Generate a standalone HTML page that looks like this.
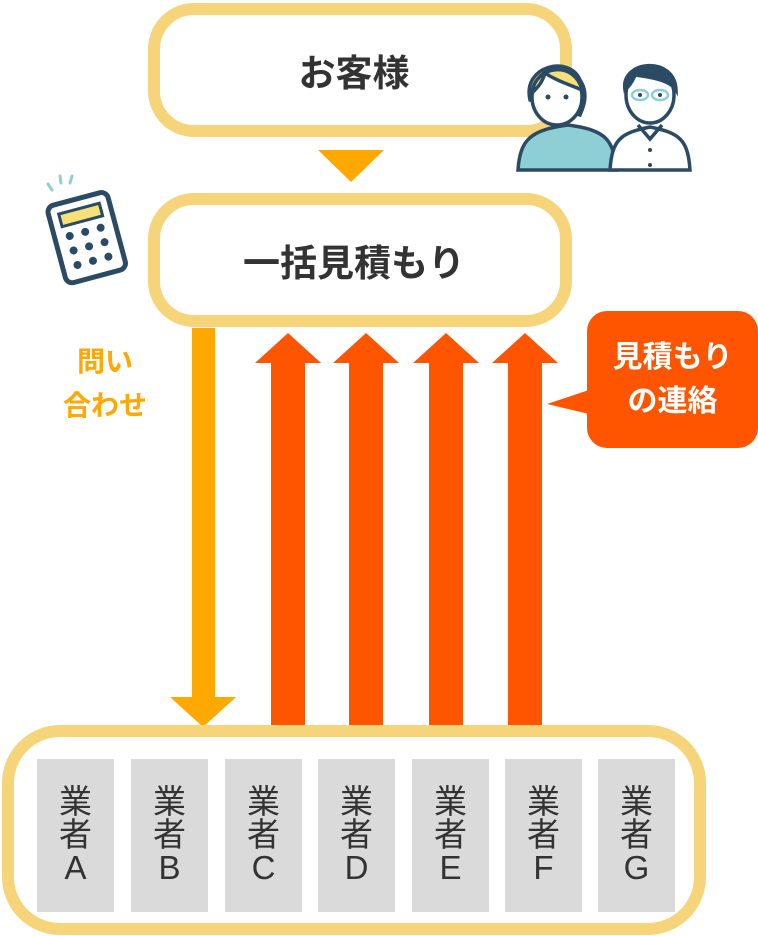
<!DOCTYPE html>
<html><head><meta charset="utf-8"><style>
body{margin:0;width:758px;height:936px;background:#fff;position:relative;overflow:hidden;font-family:"Liberation Sans","Noto Sans CJK JP",sans-serif}
.box{position:absolute;border:12px solid #F6D57A;border-radius:46px;background:#fff;box-sizing:border-box;display:flex;align-items:center;justify-content:center;font-weight:bold;font-size:37px;color:#333}
.v{position:absolute;top:759px;width:77px;height:153px;background:#DADADA;color:#333;font-size:33px;line-height:33px;text-align:center;box-sizing:border-box;padding-top:26px}
.sh{position:absolute;background:#FF5500;width:34px;top:362px;height:363px}
.hd{position:absolute;top:333px;width:0;height:0;border-left:33px solid transparent;border-right:33px solid transparent;border-bottom:30px solid #FF5500}
</style></head><body>
<div class="box" style="left:148px;top:3px;width:424px;height:134px;padding-right:12px">お客様</div>
<div class="box" style="left:148px;top:193px;width:424px;height:134px;padding-right:12px">一括見積もり</div>
<div style="position:absolute;left:318px;top:150px;border-left:33px solid transparent;border-right:33px solid transparent;border-top:32px solid #FFA800"></div>
<div style="position:absolute;left:192px;top:328px;width:23px;height:372px;background:#FFA800"></div>
<div style="position:absolute;left:170px;top:697px;border-left:33px solid transparent;border-right:33px solid transparent;border-top:30px solid #FFA800"></div>
<div style="position:absolute;left:45px;top:340px;width:120px;text-align:center;color:#FFA800;font-weight:bold;font-size:28px;line-height:44px">問い<br>合わせ</div>
<div class="sh" style="left:271px"></div><div class="hd" style="left:255px"></div>
<div class="sh" style="left:349px"></div><div class="hd" style="left:333px"></div>
<div class="sh" style="left:429px"></div><div class="hd" style="left:413px"></div>
<div class="sh" style="left:508px"></div><div class="hd" style="left:492px"></div>
<div style="position:absolute;left:587px;top:311px;width:171px;height:137px;background:#FF5500;border-radius:20px;color:#fff;font-weight:bold;font-size:30px;line-height:44px;display:flex;align-items:center;justify-content:center;text-align:center">見積もり<br>の連絡</div>
<div style="position:absolute;left:547px;top:390px;border-top:14px solid transparent;border-bottom:10px solid transparent;border-right:42px solid #FF5500"></div>
<div class="box" style="left:2px;top:725px;width:704px;height:210px;border-radius:58px"></div>
<div class="v" style="left:37px">業<br>者<br>A</div>
<div class="v" style="left:131px">業<br>者<br>B</div>
<div class="v" style="left:225px">業<br>者<br>C</div>
<div class="v" style="left:318px">業<br>者<br>D</div>
<div class="v" style="left:412px">業<br>者<br>E</div>
<div class="v" style="left:505px">業<br>者<br>F</div>
<div class="v" style="left:598px">業<br>者<br>G</div>
<svg style="position:absolute;left:30px;top:170px" width="110" height="120">
<g stroke="#8ED0D6" stroke-width="3" stroke-linecap="round"><line x1="18" y1="14" x2="22" y2="20"/><line x1="30" y1="6" x2="31" y2="13"/><line x1="42" y1="6" x2="40" y2="13"/></g>
<g transform="rotate(-15 55 65)"><rect x="25" y="28" width="62" height="80" rx="7" fill="#fff" stroke="#2B4A63" stroke-width="5"/>
<rect x="35" y="38" width="42" height="13" fill="#F6E07A" stroke="#2B4A63" stroke-width="3"/>
<g fill="#2B4A63"><circle cx="40" cy="62" r="4"/><circle cx="56" cy="62" r="4"/><circle cx="72" cy="62" r="4"/><circle cx="40" cy="77" r="4"/><circle cx="56" cy="77" r="4"/><circle cx="72" cy="77" r="4"/><circle cx="40" cy="92" r="4"/><circle cx="56" cy="92" r="4"/><circle cx="72" cy="92" r="4"/></g></g></svg>
<svg style="position:absolute;left:510px;top:55px" width="190" height="120">
<g stroke="#2B4A63" stroke-width="3.5" fill="none">
<path d="M8 115 C10 85 20 75 58 70 C96 75 104 85 106 115Z" fill="#8ECFD6"/>
<path d="M20 45 C12 10 60 0 70 25 C80 40 72 55 70 60 Z" fill="#F6E07A"/>
<ellipse cx="47" cy="42" rx="25" ry="28" fill="#fff"/>
<path d="M22 38 C25 10 65 5 72 35 C60 30 45 25 35 18 C32 28 28 32 22 38Z" fill="#F6E07A"/>
<path d="M100 115 C102 85 110 78 140 72 C170 78 178 85 180 115Z" fill="#fff"/>
<path d="M128 70 l12 14 l12 -14"/>
<ellipse cx="140" cy="40" rx="24" ry="28" fill="#fff"/>
<path d="M115 35 C110 5 165 0 166 35 C160 25 140 22 125 20 C122 28 118 32 115 35Z" fill="#2B4A63"/>
</g>
<g fill="#2B4A63"><circle cx="38" cy="42" r="2.5"/><circle cx="56" cy="42" r="2.5"/><circle cx="130" cy="40" r="2"/><circle cx="150" cy="40" r="2"/><circle cx="140" cy="95" r="2"/><circle cx="140" cy="110" r="2"/></g>
<g stroke="#8ECFD6" stroke-width="2.5" fill="none"><ellipse cx="130" cy="40" rx="8" ry="5"/><ellipse cx="150" cy="40" rx="8" ry="5"/></g>
</svg>
</body></html>
